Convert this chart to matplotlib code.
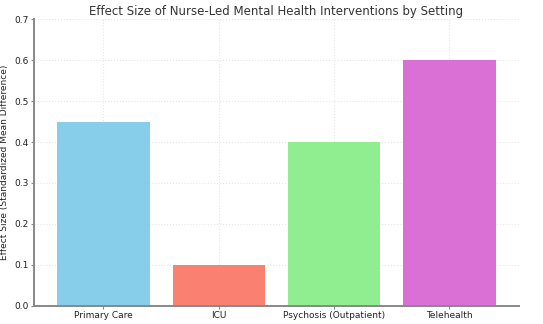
import matplotlib.pyplot as plt

# data
settings = ["Primary Care", "ICU", "Psychosis (Outpatient)", "Telehealth"]
effect_sizes = [0.45, 0.10, 0.40, 0.60]
bar_colors = ["skyblue", "salmon", "lightgreen", "orchid"]

fig = plt.figure(figsize=(5.43, 3.24), dpi=100)
ax = fig.add_axes([0.063, 0.056, 0.892, 0.885])

ax.bar(settings, effect_sizes, color=bar_colors, width=0.8, zorder=2)

ax.set_xlim(-0.6, 3.6)
ax.set_ylim(0, 0.7)
ax.set_yticks([0.0, 0.1, 0.2, 0.3, 0.4, 0.5, 0.6, 0.7])
ax.set_title("Effect Size of Nurse-Led Mental Health Interventions by Setting",
             fontsize=8.5, color="#333333", pad=3)
ax.set_ylabel("Effect Size (Standardized Mean Difference)", fontsize=6.5, color="#222222")

ax.grid(True, color="#e6e6e6", linestyle=":", linewidth=0.8, zorder=0)
for side in ["top", "right"]:
    ax.spines[side].set_visible(False)
for side in ["left", "bottom"]:
    ax.spines[side].set_color("#888888")
    ax.spines[side].set_linewidth(1.4)
ax.tick_params(labelsize=6.5, colors="#222222", length=2.5, width=0.8, pad=1.5)
ax.tick_params(axis="x", color="#888888")
ax.tick_params(axis="y", color="#888888")

fig.savefig("out.png", dpi=100)
